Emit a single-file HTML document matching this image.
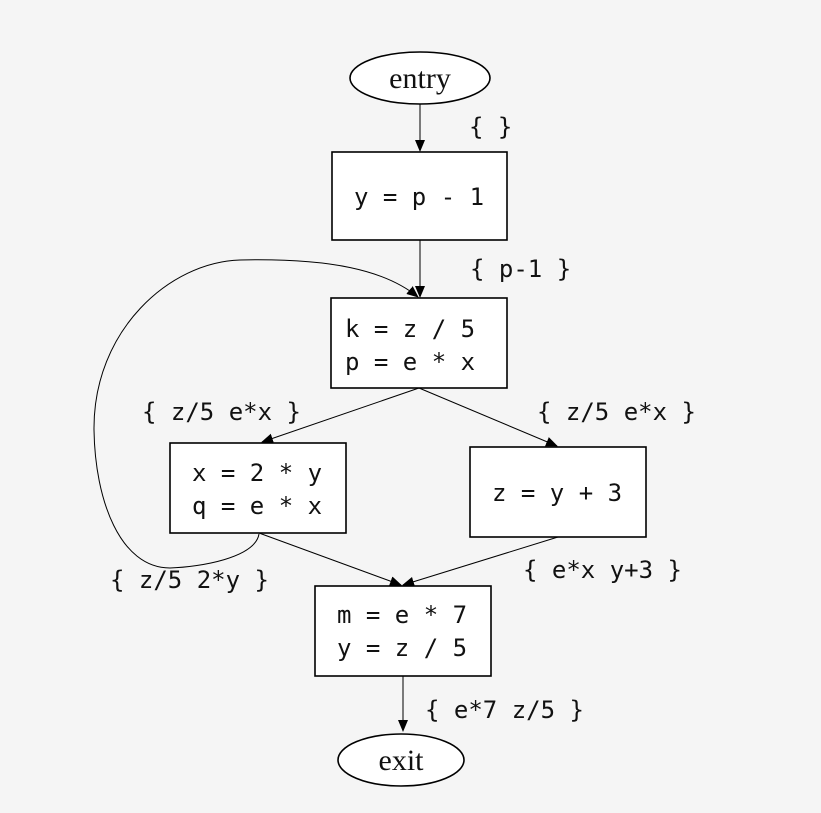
<!DOCTYPE html>
<html><head><style>
html,body{margin:0;padding:0;background:#f5f5f5;}
svg{display:block}
.m{font-family:"DejaVu Sans Mono","Liberation Mono",monospace;font-size:24px;fill:#111}
.s{font-family:"Liberation Serif",serif;font-size:30px;fill:#111}
</style></head><body>
<svg width="821" height="813" viewBox="0 0 821 813" xmlns="http://www.w3.org/2000/svg">
<defs><marker id="a" markerWidth="12" markerHeight="10" refX="11" refY="5" orient="auto" markerUnits="userSpaceOnUse"><path d="M0,0 L12,5 L0,10 z" fill="#000"/></marker></defs>
<rect width="821" height="813" fill="#f5f5f5"/>
<g fill="#fff" stroke="#000" stroke-width="1.6">
<ellipse cx="420" cy="78" rx="70" ry="26"/>
<rect x="332" y="152" width="175" height="88"/>
<rect x="331" y="298" width="176" height="90"/>
<rect x="170" y="443" width="176" height="90"/>
<rect x="470" y="447" width="176" height="90"/>
<rect x="315" y="586" width="176" height="90"/>
<ellipse cx="401" cy="760" rx="63" ry="26"/>
</g>
<g stroke="#000" stroke-width="1" fill="none" marker-end="url(#a)">
<line x1="420" y1="104" x2="420" y2="151"/>
<line x1="420" y1="240" x2="420" y2="297"/>
<line x1="419" y1="388" x2="262" y2="442"/>
<line x1="419" y1="388" x2="557" y2="446"/>
<line x1="259" y1="533" x2="401" y2="585"/>
<line x1="558" y1="537" x2="403" y2="585"/>
<line x1="403" y1="676" x2="403" y2="731"/>
<path d="M259,534 C255,558 200,567 170,568 C120,568 95,500 94,430 C93,330 170,262 240,260 C330,258 385,270 418,297"/>
</g>
<text x="420" y="88" text-anchor="middle" class="s">entry</text>
<text x="401" y="770" text-anchor="middle" class="s">exit</text>
<g class="m">
<text x="354" y="205">y = p - 1</text>
<text x="345" y="337">k = z / 5</text>
<text x="345" y="370">p = e * x</text>
<text x="192" y="481">x = 2 * y</text>
<text x="192" y="514">q = e * x</text>
<text x="492" y="501">z = y + 3</text>
<text x="337" y="623">m = e * 7</text>
<text x="337" y="656">y = z / 5</text>
<text x="469" y="135">{ }</text>
<text x="470" y="277">{ p-1 }</text>
<text x="142" y="420">{ z/5 e*x }</text>
<text x="537" y="420">{ z/5 e*x }</text>
<text x="110" y="588">{ z/5 2*y }</text>
<text x="523" y="578">{ e*x y+3 }</text>
<text x="425" y="718">{ e*7 z/5 }</text>
</g>
</svg>
</body></html>
